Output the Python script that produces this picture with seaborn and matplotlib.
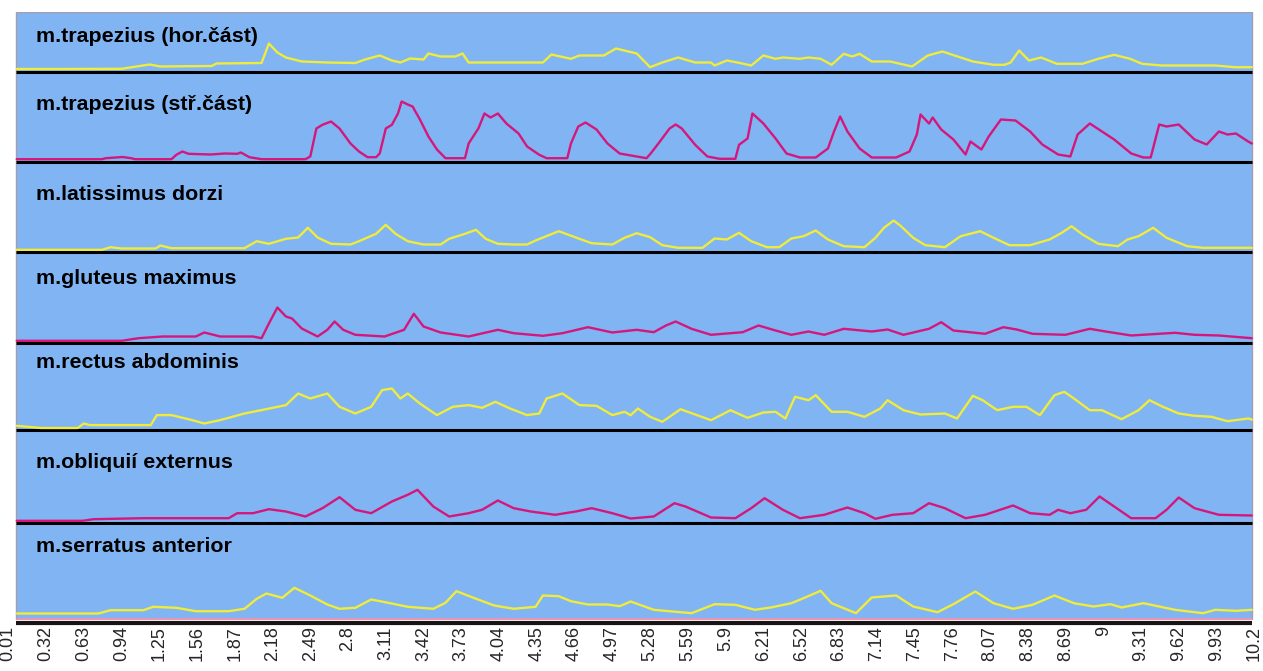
import numpy as np
import matplotlib
matplotlib.use("Agg")
import matplotlib.pyplot as plt
from matplotlib.patches import Rectangle
import seaborn as sns

# EMG envelopes: time [s] and height above each panel's baseline
muscles = ["m.trapezius (hor.část)", "m.trapezius (stř.část)", "m.latissimus dorzi",
           "m.gluteus maximus", "m.rectus abdominis", "m.obliquií externus",
           "m.serratus anterior"]

tick_pos = [0.01, 0.32, 0.63, 0.94, 1.25, 1.56, 1.87, 2.18, 2.49, 2.8, 3.11, 3.42,
            3.73, 4.04, 4.35, 4.66, 4.97, 5.28, 5.59, 5.9, 6.21, 6.52, 6.83, 7.14,
            7.45, 7.76, 8.07, 8.38, 8.69, 9.0, 9.31, 9.62, 9.93, 10.24]
tick_labels = ["0.01", "0.32", "0.63", "0.94", "1.25", "1.56", "1.87", "2.18", "2.49",
               "2.8", "3.11", "3.42", "3.73", "4.04", "4.35", "4.66", "4.97", "5.28",
               "5.59", "5.9", "6.21", "6.52", "6.83", "7.14", "7.45", "7.76", "8.07",
               "8.38", "8.69", "9", "9.31", "9.62", "9.93", "10.2"]

t_hor = [0.08, 0.44, 0.94, 1.17, 1.26, 1.68, 1.72, 2.09, 2.15, 2.22, 2.29, 2.42, 2.63, 2.86, 2.94,
         3.06, 3.16, 3.23, 3.31, 3.42, 3.46, 3.56, 3.68, 3.74, 3.79, 4.05, 4.40, 4.47, 4.63, 4.70,
         4.90, 5.00, 5.17, 5.28, 5.38, 5.51, 5.65, 5.78, 5.81, 5.91, 6.01, 6.11, 6.21, 6.31, 6.37,
         6.51, 6.58, 6.68, 6.77, 6.87, 6.94, 7.00, 7.10, 7.25, 7.43, 7.56, 7.68, 7.83, 7.93, 8.10,
         8.19, 8.24, 8.31, 8.39, 8.49, 8.62, 8.83, 8.96, 9.09, 9.22, 9.32, 9.48, 9.92, 10.08, 10.22]
a_hor = [1.5, 1.5, 1.7, 6, 4, 4.5, 7, 7.5, 27, 18, 13, 9, 8, 7.5, 11,
         15, 10, 8, 12, 11, 17, 14, 14, 17, 8, 8, 8, 16, 11.7, 15,
         15, 22, 17, 3.3, 8, 13, 8, 8, 5, 10, 7.7, 5, 15, 11.7, 13,
         11.7, 13, 11.7, 5.7, 16.7, 14, 16.7, 9, 9, 4, 15, 19, 13, 9, 5.7,
         5.7, 8, 20, 10, 13, 6.7, 6.7, 11.7, 15.7, 11.7, 6.7, 5, 5, 3.3, 3.3]

t_str = [0.08, 0.78, 0.81, 0.95, 1.02, 1.05, 1.35, 1.39, 1.44, 1.49,
         1.67, 1.79, 1.89, 1.92, 1.99, 2.09, 2.45, 2.49, 2.54, 2.59,
         2.66, 2.69, 2.73, 2.82, 2.89, 2.96, 3.03, 3.06, 3.11, 3.16,
         3.21, 3.24, 3.29, 3.33, 3.39, 3.46, 3.53, 3.60, 3.76, 3.79,
         3.87, 3.92, 3.97, 4.03, 4.10, 4.20, 4.27, 4.37, 4.43, 4.60,
         4.63, 4.69, 4.75, 4.84, 4.93, 5.03, 5.17, 5.25, 5.28, 5.34,
         5.44, 5.49, 5.54, 5.65, 5.75, 5.85, 5.98, 6.01, 6.08, 6.12,
         6.21, 6.31, 6.40, 6.51, 6.64, 6.74, 6.79, 6.84, 6.90, 7.00,
         7.10, 7.30, 7.41, 7.47, 7.50, 7.57, 7.60, 7.67, 7.77, 7.87,
         7.91, 8.00, 8.06, 8.16, 8.28, 8.40, 8.50, 8.63, 8.73, 8.79,
         8.89, 8.99, 9.09, 9.23, 9.33, 9.39, 9.46, 9.52, 9.62, 9.75,
         9.85, 9.95, 10.02, 10.09, 10.19, 10.22]
a_str = [1.3, 1.3, 2.3, 3.5, 2.3, 1.3, 1.3, 5.7, 9, 6.7,
         6, 7, 6.7, 8, 3.3, 1.3, 1.3, 4, 32, 35.7,
         39, 36, 32, 17, 9, 3.3, 3.3, 7, 32, 35.7,
         47, 59, 56, 54, 41, 24, 11, 2.3, 2.3, 17,
         32, 47, 43, 47, 37, 27, 14, 5.7, 2.3, 2.3,
         17, 34, 38, 31, 17, 7, 4, 2.3, 6.3, 15.7,
         32, 36, 32, 15.7, 4, 1.7, 1.7, 15.7, 22, 47,
         37, 22, 7, 3, 3, 12, 29, 44, 29, 12,
         3, 3, 9, 26, 46, 37, 43, 31, 21, 6,
         19, 11, 24, 41, 40, 29, 16, 6, 4, 26,
         37, 29, 21, 7, 3, 3, 36, 34, 36, 21,
         16, 29, 26, 27, 19, 17]

t_lat = [0.08, 0.78, 0.85, 0.94, 1.22, 1.26, 1.35, 1.95, 2.05, 2.15,
         2.29, 2.39, 2.47, 2.55, 2.66, 2.82, 2.89, 3.03, 3.11, 3.19,
         3.29, 3.42, 3.56, 3.63, 3.76, 3.85, 3.93, 4.03, 4.16, 4.27,
         4.34, 4.53, 4.67, 4.80, 4.97, 5.07, 5.17, 5.28, 5.38, 5.51,
         5.71, 5.81, 5.91, 6.01, 6.11, 6.24, 6.34, 6.44, 6.54, 6.64,
         6.74, 6.87, 7.04, 7.13, 7.20, 7.28, 7.34, 7.44, 7.54, 7.70,
         7.83, 7.99, 8.10, 8.23, 8.40, 8.56, 8.66, 8.74, 8.83, 8.96,
         9.12, 9.20, 9.29, 9.41, 9.52, 9.69, 9.82, 10.22]
a_lat = [0.7, 0.7, 3.3, 2, 2, 5, 2.3, 2.3, 9.3, 6.7,
         11.7, 13, 22.7, 13, 6.7, 6, 9.3, 16.7, 25.7, 16.7,
         9.3, 6, 6, 11.7, 16.7, 20.7, 11.7, 6.7, 6, 6,
         10, 19.3, 13, 7.3, 6, 12.7, 17.3, 13.3, 5.3, 2.7,
         2.7, 12, 11, 17.7, 9.3, 3.3, 3.3, 12, 14.3, 20,
         11, 4.3, 3.3, 12.7, 22.7, 30, 24.3, 12.7, 5.3, 3.3,
         14.3, 19.3, 12.7, 5.3, 5.3, 11, 17.7, 24.3, 16, 6.7,
         4.3, 11, 14.3, 22.7, 12.7, 4.3, 2.7, 2.7]

t_glu = [0.08, 0.94, 1.08, 1.28, 1.55, 1.62, 1.75, 2.02, 2.09, 2.15,
         2.22, 2.29, 2.34, 2.42, 2.55, 2.63, 2.69, 2.76, 2.86, 3.10,
         3.26, 3.34, 3.42, 3.56, 3.79, 4.03, 4.16, 4.40, 4.56, 4.77,
         4.97, 5.17, 5.31, 5.41, 5.49, 5.62, 5.78, 6.04, 6.17, 6.31,
         6.44, 6.58, 6.71, 6.87, 7.10, 7.23, 7.36, 7.57, 7.67, 7.77,
         8.03, 8.18, 8.29, 8.42, 8.69, 8.89, 9.02, 9.23, 9.59, 9.75,
         9.95, 10.22]
a_glu = [0.7, 0.7, 3.3, 5, 5, 9, 5, 5, 3.3, 18,
         34, 25, 23, 13, 5, 11.7, 20, 11.7, 6.7, 5,
         11.7, 27.7, 15, 9, 5, 11.7, 8.3, 5.7, 8.3, 14.3,
         9, 11.7, 9.3, 16, 20, 12.7, 6.7, 9.3, 16, 11,
         6.7, 10, 6.7, 12.7, 10, 12, 6.7, 12.7, 19.3, 11,
         7.7, 14.3, 12, 7.7, 6.7, 12.7, 10, 6, 8.7, 6.7,
         6, 3.3]

t_rec = [0.08, 0.28, 0.58, 0.63, 0.68, 1.18, 1.23, 1.35, 1.52, 1.62,
         1.75, 1.95, 2.09, 2.29, 2.39, 2.49, 2.63, 2.73, 2.86, 2.99,
         3.08, 3.16, 3.23, 3.29, 3.39, 3.53, 3.66, 3.79, 3.90, 4.01,
         4.13, 4.27, 4.37, 4.43, 4.56, 4.70, 4.84, 4.97, 5.07, 5.12,
         5.18, 5.28, 5.38, 5.44, 5.53, 5.65, 5.78, 5.94, 6.08, 6.21,
         6.31, 6.39, 6.47, 6.58, 6.64, 6.77, 6.90, 7.04, 7.17, 7.23,
         7.36, 7.50, 7.70, 7.80, 7.93, 8.01, 8.13, 8.26, 8.37, 8.48,
         8.60, 8.68, 8.76, 8.89, 8.99, 9.15, 9.29, 9.38, 9.49, 9.62,
         9.75, 9.89, 10.02, 10.19, 10.22]
a_rec = [2.7, 0.5, 0.5, 5, 3.4, 3.4, 13.4, 13.4, 8.4, 5,
         8.4, 15, 18.4, 23.4, 35, 30, 35, 21.7, 15, 21.7,
         38.4, 40, 30, 35, 25, 13.4, 21.7, 23.4, 20.7, 26.7,
         20, 13.4, 15, 30, 35, 23.4, 22.7, 13.4, 16.7, 13.3,
         20, 11.7, 6.7, 11.7, 19.3, 14, 8.3, 18.3, 10.7, 16,
         16.7, 10, 31.7, 28.3, 33.3, 16.7, 16.7, 11.7, 20, 28.3,
         18.3, 14, 15, 10, 32.7, 28.3, 18.3, 21.7, 21.7, 13.3,
         33.3, 36.7, 30, 18.3, 18.3, 9.3, 18.3, 28.3, 21.7, 15,
         12.7, 11.7, 7.3, 10, 9]

t_obl = [0.08, 0.62, 0.71, 1.12, 1.82, 1.89, 2.02, 2.15, 2.29, 2.45,
         2.59, 2.73, 2.86, 2.99, 3.16, 3.29, 3.37, 3.50, 3.63, 3.79,
         3.90, 4.03, 4.16, 4.30, 4.50, 4.67, 4.80, 4.97, 5.12, 5.31,
         5.48, 5.57, 5.78, 5.98, 6.11, 6.22, 6.37, 6.51, 6.71, 6.90,
         7.04, 7.13, 7.27, 7.44, 7.57, 7.70, 7.87, 8.03, 8.26, 8.40,
         8.56, 8.63, 8.73, 8.86, 8.97, 9.09, 9.23, 9.43, 9.52, 9.62,
         9.75, 9.95, 10.22]
a_obl = [0.7, 0.7, 2.3, 3.3, 3.3, 8.3, 8.3, 12.3, 10, 5,
         13.3, 24.3, 11.7, 8.3, 20, 26.7, 31.7, 15, 5, 8.3,
         11.7, 21, 13.3, 10, 6.7, 10, 13.3, 8.3, 3, 5,
         18.3, 15, 4, 3.3, 13.3, 23.3, 11.7, 3.3, 6.7, 14,
         8.3, 2.7, 6.7, 8.3, 18.3, 13.3, 3.3, 6.7, 16, 8.3,
         6.7, 11.7, 8.3, 11.7, 25, 15, 3.3, 3.3, 11.7, 24,
         13.3, 6.7, 6]

t_ser = [0.08, 0.75, 0.85, 1.12, 1.20, 1.39, 1.55, 1.82, 1.95, 2.05,
         2.13, 2.26, 2.36, 2.49, 2.63, 2.73, 2.86, 2.99, 3.13, 3.29,
         3.50, 3.60, 3.69, 3.83, 4.00, 4.16, 4.34, 4.40, 4.53, 4.63,
         4.77, 4.93, 5.03, 5.12, 5.31, 5.62, 5.81, 5.98, 6.14, 6.27,
         6.44, 6.54, 6.68, 6.77, 6.97, 7.10, 7.30, 7.44, 7.64, 7.77,
         7.95, 8.10, 8.26, 8.42, 8.60, 8.76, 8.92, 9.06, 9.15, 9.33,
         9.59, 9.82, 9.92, 10.09, 10.22]
a_ser = [2, 2, 5.3, 5.3, 8.7, 7.7, 4.3, 4.3, 6.7, 16.7,
         22, 17.7, 27.7, 20, 11, 6.7, 7.7, 16, 12.7, 8.7,
         6.7, 12.7, 24.3, 17.7, 10, 6.7, 8.7, 20, 19.3, 14.3,
         11, 11, 9.3, 14, 5.7, 2.3, 11.3, 10.7, 5.7, 8,
         12.3, 17.3, 24.7, 12.3, 2.3, 18, 20, 9, 3.3, 11.3,
         24, 12.3, 6.7, 10.7, 20, 12.3, 9, 11.3, 8, 12.3,
         5.7, 2.3, 5.7, 4.7, 5.7]

times = [t_hor, t_str, t_lat, t_glu, t_rec, t_obl, t_ser]
amps = [a_hor, a_str, a_lat, a_glu, a_rec, a_obl, a_ser]

YELLOW = "#f0ec3c"
MAGENTA = "#d5177c"
BG = "#80b4f2"
colors = [YELLOW, MAGENTA, YELLOW, MAGENTA, YELLOW, MAGENTA, YELLOW]

# panel layout (figure pixels -> data units, 620 px = y 0)
bases = [548, 458, 368, 277, 190, 97, 3]
label_y = [584, 516, 425, 342, 257, 158, 74]
x0, x1 = 0.074, 10.22

sns.set_style("white")
plt.rcParams["font.family"] = ["Liberation Sans", "DejaVu Sans"]

fig = plt.figure(figsize=(12.63, 6.71), dpi=100)
ax = fig.add_axes([7 / 1263, 51 / 671, 1250 / 1263, 608 / 671])
ax.set_facecolor("none")
for s in ax.spines.values():
    s.set_visible(False)

ax.add_patch(Rectangle((x0, 0), x1 - x0, 608, facecolor=BG, edgecolor="#a89cae",
                       lw=1.0, zorder=0))

for b in bases[:6]:
    ax.hlines(b, x0, x1, color="black", lw=2.2, zorder=2)
ax.hlines(1.5, x0, x1, color="#e896b8", lw=2.2, zorder=2)
ax.hlines(-2.5, x0, x1, color="#1a1414", lw=3.0, zorder=2, clip_on=False)

for name, t, a, b, ly, c in zip(muscles, times, amps, bases, label_y, colors):
    y = b + 1.5 + np.asarray(a)
    sns.lineplot(x=t, y=y, ax=ax, color=c, lw=1.7, estimator=None, sort=False, zorder=3)
    ax.text(0.24, ly, name, fontsize=15.4, fontweight="bold", va="center", ha="left",
            color="black", zorder=4)

ax.set_xlim(0, 1250 / 121.8)
ax.set_ylim(0, 608)
ax.set_yticks([])
ax.set_xticks(tick_pos)
ax.set_xticklabels(tick_labels, rotation=90, fontsize=13)
ax.tick_params(axis="x", length=0, pad=4.5)
ax.set_xlabel("")
ax.set_ylabel("")

fig.savefig("out.png", dpi=100)
